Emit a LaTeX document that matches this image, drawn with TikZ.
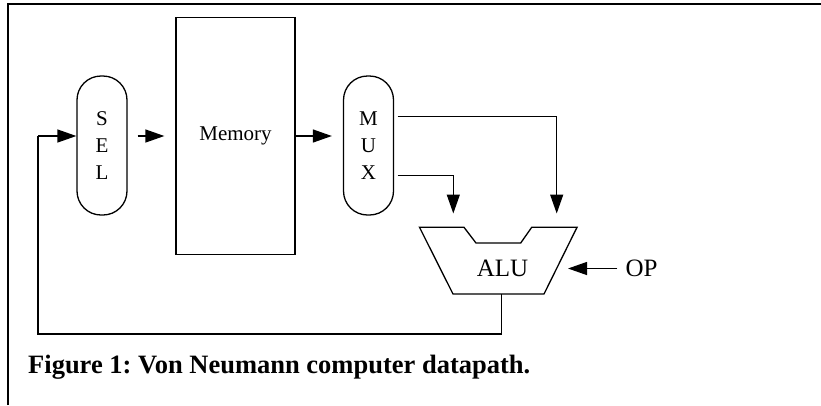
\documentclass[tikz,border=0pt]{standalone}
\usepackage{fontspec}
\setmainfont{Liberation Serif}
\frenchspacing
\usetikzlibrary{arrows.meta,positioning}
\tikzstyle{pill}=[draw, line width=1.3pt, rounded corners=24pt, minimum width=50pt, minimum height=139pt, inner sep=0, align=center, font=\fontsize{21}{27}\selectfont]
\tikzstyle{membox}=[draw, line width=1.3pt, minimum width=119pt, minimum height=237pt, inner sep=0, font=\fontsize{21}{27}\selectfont]
\tikzstyle{label}=[inner sep=0, font=\fontsize{25}{30}\selectfont]
\tikzstyle{wire}=[line width=1.3pt]
\tikzstyle{conn}=[wire, -{Triangle[length=19pt,width=13pt]}]

\begin{document}
\begin{tikzpicture}[x=1pt,y=-1pt]
    \useasboundingbox (0,0) rectangle (821,405);
    \draw[line width=2pt] (7.5,405)--(7.5,4)--(821,4);
    \draw (102,145.5) node[pill](sel){S\\E\\L};
    \draw (235.5,135.7) node[membox](mem){Memory};
    \draw (368.5,145.5) node[pill](mux){M\\U\\X};
    % ALU outline with notch
    \coordinate (tl) at (419.5,227.3); \coordinate (tr) at (577,227.3);
    \coordinate (bl) at (453,294); \coordinate (br) at (544,294);
    \draw[wire] (tl)--(464,227.3)--(476,243)--(520.7,243)--(531.7,227.3)--(tr)--(br)--(bl)--cycle;
    \draw (502.6,268.5) node[label](alu){ALU};
    \draw (641.5,268.5) node[label](op){OP};
    \coordinate (fb) at (38,136); \coordinate (aluout) at (501.7,294);
    \coordinate (ina) at (453.3,213.5); \coordinate (inb) at (556.7,213.5);
    \coordinate (opin) at (568,268.5);
    \draw[conn] (fb)--(fb -| sel.west);
    \draw[conn] ([xshift=10pt]sel.east |- fb)--([xshift=-11pt]mem.west |- fb);
    \draw[conn] (mem.east |- fb)--([xshift=-11pt]mux.west |- fb);
    \draw[conn] (397.7,116.7)--(inb |- 0,116.7)--(inb);
    \draw[conn] (397.7,175.7)--(ina |- 0,175.7)--(ina);
    \draw[conn] ([xshift=-8pt]op.west)--(opin);
    \draw[wire] (aluout)--(aluout |- 0,334)--(fb |- 0,334)--(fb);
    \draw (28,373) node[anchor=base west, inner sep=0, font=\fontsize{26.5}{30}\selectfont\bfseries](cap){Figure 1: Von Neumann computer datapath.};
\end{tikzpicture}
\end{document}
